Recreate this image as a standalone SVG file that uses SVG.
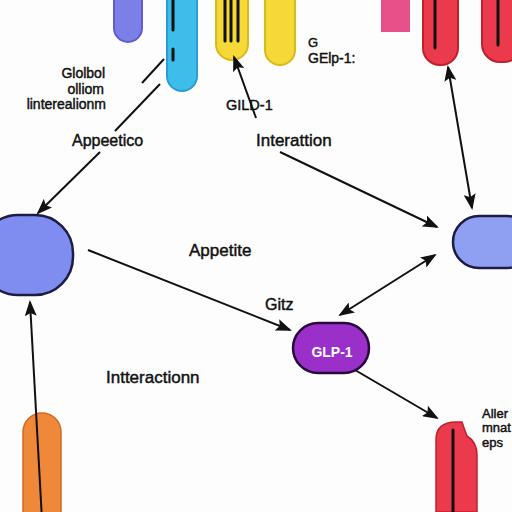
<svg xmlns="http://www.w3.org/2000/svg" width="512" height="512" viewBox="0 0 512 512">
<style>
text{font-family:"Liberation Sans",Arial,sans-serif;fill:#111;stroke:#111;stroke-width:0.45px}
.l{font-size:14px}
.m{font-size:16px}
.edge{stroke:#111;stroke-width:2;fill:none}
.in{stroke:#111;stroke-width:3;stroke-linecap:round}
</style>
<defs>
<marker id="ah" markerUnits="userSpaceOnUse" markerWidth="16" markerHeight="12" refX="14" refY="6" orient="auto-start-reverse">
<path d="M0,0 L16,6 L0,12 L3,6 z" fill="#111"/>
</marker>
</defs>
<rect width="512" height="512" fill="#fdfdfd"/>

<g id="top-purple"><rect x="114" y="-30" width="28" height="72" rx="14" fill="#7b7fe6" stroke="#5b5fd0" stroke-width="2"/></g>
<g id="top-cyan"><rect x="167" y="-30" width="30" height="121" rx="15" fill="#3dbde9" stroke="#2c9cd2" stroke-width="2"/>
<line class="in" x1="173" y1="0" x2="173" y2="30"/><line class="in" x1="173" y1="49" x2="173" y2="60"/></g>
<g id="top-yellow1"><rect x="216" y="-30" width="32" height="90" rx="16" fill="#f6d936" stroke="#d9b920" stroke-width="2"/>
<line class="in" x1="225" y1="0" x2="225" y2="41"/><line class="in" x1="231" y1="0" x2="231" y2="41"/><line class="in" x1="238" y1="0" x2="238" y2="41"/></g>
<g id="top-yellow2"><rect x="265" y="-30" width="30" height="95" rx="15" fill="#f6d936" stroke="#d9b920" stroke-width="2"/></g>
<g id="top-pink"><rect x="381" y="-5" width="29" height="37" fill="#e8508a"/></g>
<g id="top-red1"><rect x="423" y="-30" width="35" height="95" rx="17" fill="#ea3a4c" stroke="#c0202e" stroke-width="2"/>
<line class="in" x1="435" y1="0" x2="435" y2="48"/></g>
<g id="top-red2"><rect x="482" y="-30" width="40" height="92" rx="18" fill="#ea3a4c" stroke="#c0202e" stroke-width="2"/>
<line class="in" x1="498" y1="0" x2="498" y2="45"/></g>

<g id="node-left"><rect x="-20" y="215" width="93" height="80" rx="38" fill="#7f8cf0" stroke="#1c1c44" stroke-width="2.5"/></g>
<g id="node-right"><rect x="453" y="216" width="80" height="52" rx="26" fill="#8fa0f2" stroke="#1c1c44" stroke-width="2.5"/></g>
<g id="node-glp1"><rect x="293" y="323" width="76" height="50" rx="25" fill="#9b2fc9" stroke="#2a0a3a" stroke-width="2.5"/>
<text x="332" y="357" text-anchor="middle" style="font-size:14px;font-weight:bold;fill:#fff;stroke:none">GLP-1</text></g>
<g id="bottom-orange"><rect x="23" y="413" width="38" height="130" rx="19" fill="#f0883a" stroke="#d06a20" stroke-width="1.5"/></g>
<g id="bottom-red"><path d="M436,512 L436,440 Q436,422 456,422 L462,422 Q465,431 467,436 Q477,442 477,455 L477,512 z" fill="#ea3a4c" stroke="#c0202e" stroke-width="1.5"/>
<line class="in" x1="453" y1="430" x2="453" y2="512"/></g>

<g id="connectors">
<line class="edge" x1="164" y1="59" x2="142" y2="83"/>
<line class="edge" x1="160" y1="84" x2="115" y2="131"/>
<line class="edge" x1="100" y1="152" x2="38" y2="213" marker-end="url(#ah)"/>
<line class="edge" x1="256" y1="118" x2="234" y2="57" marker-end="url(#ah)"/>
<line class="edge" x1="448" y1="67" x2="472" y2="208" marker-start="url(#ah)" marker-end="url(#ah)"/>
<line class="edge" x1="280" y1="152" x2="437" y2="227" marker-end="url(#ah)"/>
<line class="edge" x1="435" y1="255" x2="340" y2="315" marker-start="url(#ah)" marker-end="url(#ah)"/>
<line class="edge" x1="88" y1="250" x2="290" y2="330" marker-end="url(#ah)"/>
<line class="edge" x1="355" y1="370" x2="437" y2="418" marker-end="url(#ah)"/>
<line class="edge" x1="42" y1="520" x2="30" y2="302" marker-end="url(#ah)"/>
</g>

<g id="labels">
<text class="l" x="105" y="78" text-anchor="end">Glolbol</text>
<text class="l" x="104" y="94" text-anchor="end">olliom</text>
<text class="l" x="106" y="109" text-anchor="end">linterealionm</text>
<text class="m" x="72" y="146">Appeetico</text>
<text class="l" x="226" y="110" style="font-size:14.5px">GILD-1</text>
<text x="308" y="47" style="font-size:13px">G</text>
<text class="l" x="308" y="63">GElp-1:</text>
<text x="256" y="146" style="font-size:17px">Interattion</text>
<text x="189" y="256" style="font-size:17px">Appetite</text>
<text class="m" x="265" y="310">Gitz</text>
<text x="106" y="383" style="font-size:17px">Intteractionn</text>
<text x="482" y="418" style="font-size:13px">Aller</text>
<text x="482" y="432" style="font-size:13px">mnat</text>
<text x="482" y="447" style="font-size:13px">eps</text>
</g>
</svg>
